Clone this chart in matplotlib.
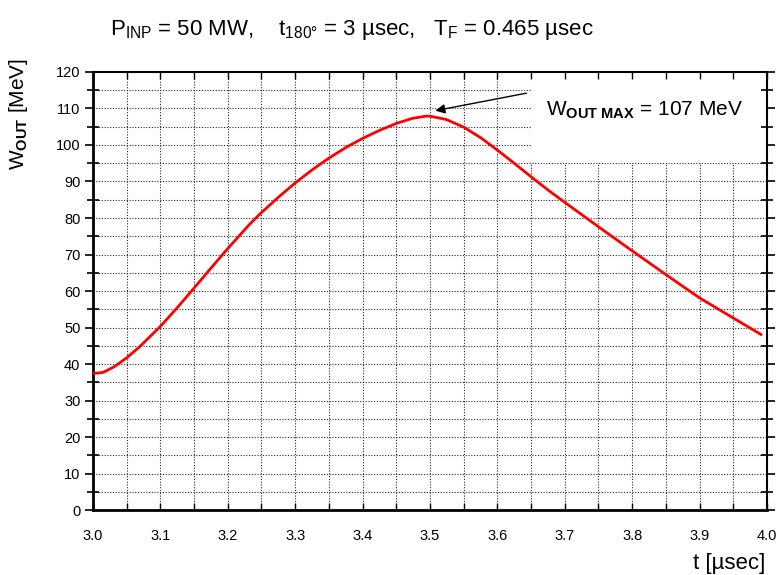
import matplotlib
matplotlib.use("Agg")
import matplotlib.pyplot as plt
import numpy as np
from matplotlib.patches import Rectangle

# curve
t = [3.0, 3.015, 3.032, 3.05, 3.069, 3.1, 3.123, 3.15, 3.172, 3.197, 3.232,
     3.25, 3.277, 3.3, 3.326, 3.35, 3.376, 3.4, 3.425, 3.45, 3.474, 3.494,
     3.5, 3.524, 3.55, 3.576, 3.6, 3.625, 3.65, 3.677, 3.7, 3.732, 3.75,
     3.8, 3.85, 3.9, 3.95, 3.991]
w_out = [37.4, 37.7, 39.3, 41.7, 44.7, 50.3, 55.0, 60.8, 65.6, 71.0, 78.2,
         81.5, 86.0, 89.6, 93.3, 96.4, 99.4, 101.8, 104.0, 105.9, 107.3, 107.9,
         107.9, 107.0, 104.9, 101.9, 98.6, 95.0, 91.3, 87.4, 84.3, 80.0, 77.6,
         71.0, 64.5, 58.1, 52.6, 48.1]

x_ticks = [3.0, 3.1, 3.2, 3.3, 3.4, 3.5, 3.6, 3.7, 3.8, 3.9, 4.0]
y_ticks = [0, 10, 20, 30, 40, 50, 60, 70, 80, 90, 100, 110, 120]

title = r'P$_{\mathrm{INP}}$ = 50 MW,    t$_{\mathrm{180°}}$ = 3 µsec,   T$_{\mathrm{F}}$ = 0.465 µsec'
note = r'W$_{\mathbf{OUT\ MAX}}$ = 107 MeV'

plt.rcParams['font.family'] = ['Liberation Sans', 'DejaVu Sans']
plt.rcParams['mathtext.fontset'] = 'custom'
plt.rcParams['mathtext.rm'] = 'Liberation Sans'
plt.rcParams['mathtext.bf'] = 'Liberation Sans:bold'
plt.rcParams['mathtext.it'] = 'Liberation Sans:italic'

fig = plt.figure(figsize=(7.8, 5.75), dpi=100)
ax = fig.add_axes([0.1192, 0.1130, 0.8641, 0.7618])

# dotted grid every half step, drawn under a white box for the note
for xv in np.arange(3.05, 4.0, 0.05):
    ax.axvline(xv, color='0.15', lw=0.8, ls=(0, (1, 1.5)), zorder=1)
for yv in np.arange(5, 120, 5):
    ax.axhline(yv, color='0.15', lw=0.8, ls=(0, (1, 1.5)), zorder=1)
ax.add_patch(Rectangle((0.65, 0.792), 0.35, 0.208, transform=ax.transAxes,
                       facecolor='white', edgecolor='none', zorder=1.2))

ax.plot(t, w_out, color='#ff0000', lw=2, zorder=3)

ax.set_xlim(3.0, 4.0)
ax.set_ylim(0, 120)
ax.set_xticks(x_ticks)
ax.set_xticklabels(['%.1f' % v for v in x_ticks])
ax.set_yticks(y_ticks)
ax.set_xticks(np.arange(3.05, 4.0, 0.1), minor=True)
ax.set_yticks(np.arange(5, 120, 10), minor=True)

ax.tick_params(axis='x', which='both', direction='in', length=5, width=1,
               top=True, labelsize=10.5, pad=14)
ax.tick_params(axis='y', which='major', direction='out', length=6, width=1.2,
               labelsize=10.5, pad=3)
ax.tick_params(axis='y', which='minor', direction='inout', length=8, width=1.2)
ax.tick_params(axis='y', which='both', right=True)

for s in ['left', 'bottom']:
    ax.spines[s].set_linewidth(2)
for s in ['top', 'right']:
    ax.spines[s].set_linewidth(1.5)

ax.annotate('', xy=(3.508, 109.4), xytext=(3.643, 114.2),
            arrowprops=dict(arrowstyle='-|>', color='black', lw=1,
                            mutation_scale=14, shrinkA=0, shrinkB=0),
            zorder=4)
ax.text(3.672, 109.6, note, fontsize=15, va='center', ha='left', zorder=4)

fig.text(352 / 780, 1 - 30 / 575, title, fontsize=16, ha='center', va='center')
fig.text(19 / 780, 1 - 114 / 575, r'W$_{\mathbf{OUT}}$ [MeV]', fontsize=15,
         rotation=90, ha='center', va='center')
fig.text(765 / 780, 1 - 563 / 575, 't [µsec]', fontsize=16, ha='right',
         va='center')

fig.savefig('out.png', dpi=100)
